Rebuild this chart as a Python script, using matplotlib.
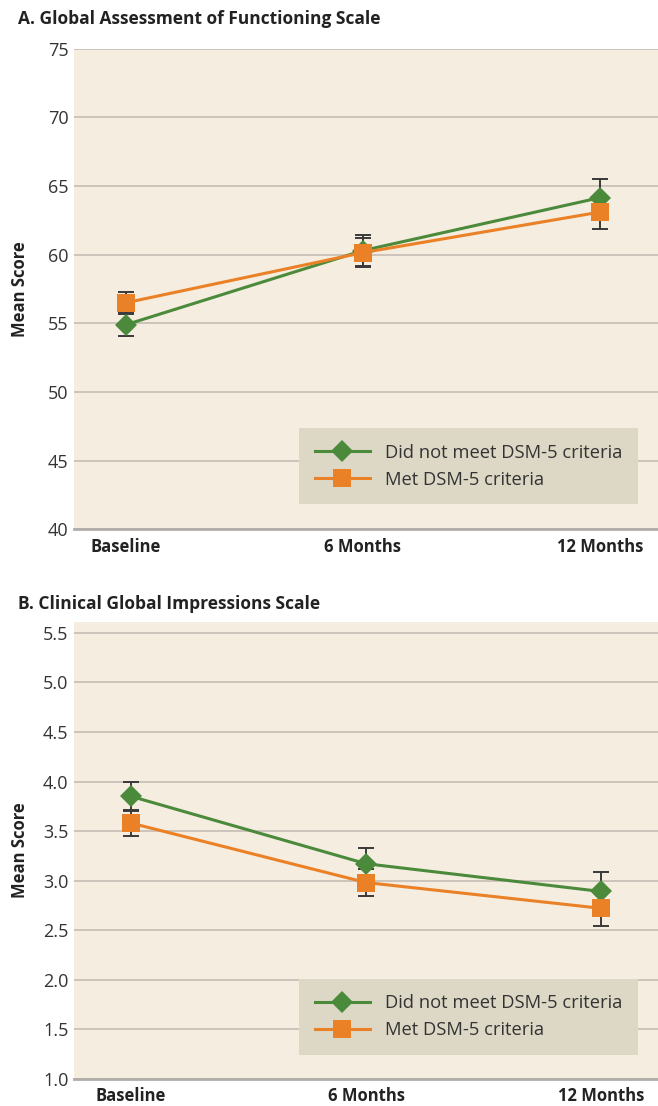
import matplotlib
matplotlib.use("Agg")
import matplotlib.pyplot as plt
from matplotlib.lines import Line2D

plt.rcParams['font.family'] = ['Open Sans', 'DejaVu Sans']

timepoints = ["Baseline", "6 Months", "12 Months"]

# A. GAF
gaf_not_met = [54.9, 60.3, 64.15]
gaf_not_met_err = [0.85, 1.1, 1.35]
gaf_met = [56.5, 60.15, 63.1]
gaf_met_err = [0.8, 1.05, 1.2]

# B. CGI
cgi_not_met = [3.85, 3.17, 2.89]
cgi_not_met_err = [0.145, 0.16, 0.2]
cgi_met = [3.58, 2.98, 2.72]
cgi_met_err = [0.13, 0.14, 0.18]

green = "#4B8A3B"
orange = "#EB8126"
bg = "#F5EDE0"
grid_c = "#C9C1B8"
err_c = "#3A3A3A"
legend_bg = "#DDD8C5"

fig = plt.figure(figsize=(6.58, 11.06), dpi=100)
ax1 = fig.add_axes([0.1125, 0.5214, 0.8875, 0.4346])
ax2 = fig.add_axes([0.1125, 0.0247, 0.8875, 0.4129])


def draw_panel(ax, y1, e1, y2, e2, ylim, yticks, fmt, xlim, title, title_y):
    x = list(range(len(timepoints)))
    ax.set_facecolor(bg)
    for yt in yticks:
        ax.axhline(yt, color=grid_c, lw=1.3, zorder=0)
    # error bars first, markers above
    ax.errorbar(x, y1, yerr=e1, fmt='none', ecolor=err_c, elinewidth=1.4,
                capsize=5.5, capthick=1.4, zorder=2)
    ax.errorbar(x, y2, yerr=e2, fmt='none', ecolor=err_c, elinewidth=1.4,
                capsize=5.5, capthick=1.4, zorder=2)
    ax.plot(x, y1, color=green, lw=2.2, marker='D', markersize=11.5,
            markeredgewidth=0, zorder=3)
    ax.plot(x, y2, color=orange, lw=2.2, marker='s', markersize=12.5,
            markeredgewidth=0, zorder=4)
    ax.set_xlim(*xlim)
    ax.set_ylim(*ylim)
    ax.set_yticks(yticks)
    ax.set_yticklabels([fmt.format(v) for v in yticks], fontsize=13, color="#333333")
    ax.set_xticks(x)
    ax.set_xticklabels(timepoints, fontsize=12, fontweight='bold', color="#222222")
    ax.tick_params(axis='both', length=0, pad=4)
    ax.tick_params(axis='x', pad=6)
    for s in ['top', 'right', 'left']:
        ax.spines[s].set_visible(False)
    ax.spines['bottom'].set_color("#B0ADA9")
    ax.spines['bottom'].set_linewidth(2)
    ax.set_ylabel("Mean Score", fontsize=12, fontweight='bold', color="#222222")
    ax.yaxis.set_label_coords(-0.077, 0.5)
    fig.text(18 / 658, 1 - title_y / 1106, title, fontsize=12.5,
             fontweight='bold', color="#222222", va='center', ha='left')
    handles = [
        Line2D([], [], color=green, lw=2.2, marker='D', markersize=11.5, markeredgewidth=0),
        Line2D([], [], color=orange, lw=2.2, marker='s', markersize=12.5, markeredgewidth=0),
    ]
    leg = ax.legend(handles, ["Did not meet DSM-5 criteria", "Met DSM-5 criteria"],
                    loc='lower right', bbox_to_anchor=(0.966, 0.052), fontsize=13.2,
                    frameon=True, fancybox=False, handlelength=3.0, borderpad=0.85,
                    labelspacing=0.5, handletextpad=0.85, borderaxespad=0)
    leg.get_frame().set_facecolor(legend_bg)
    leg.get_frame().set_edgecolor('none')
    leg.get_frame().set_alpha(1)
    for t in leg.get_texts():
        t.set_color("#333333")


draw_panel(ax1, gaf_not_met, gaf_not_met_err, gaf_met, gaf_met_err,
           (40, 75), [40, 45, 50, 55, 60, 65, 70, 75], "{:.0f}", (-0.219, 2.245),
           "A. Global Assessment of Functioning Scale", 19)
draw_panel(ax2, cgi_not_met, cgi_not_met_err, cgi_met, cgi_met_err,
           (1.0, 5.61), [1.0, 1.5, 2.0, 2.5, 3.0, 3.5, 4.0, 4.5, 5.0, 5.5], "{:.1f}",
           (-0.243, 2.243), "B. Clinical Global Impressions Scale", 604)

fig.savefig("out.png", dpi=100)
